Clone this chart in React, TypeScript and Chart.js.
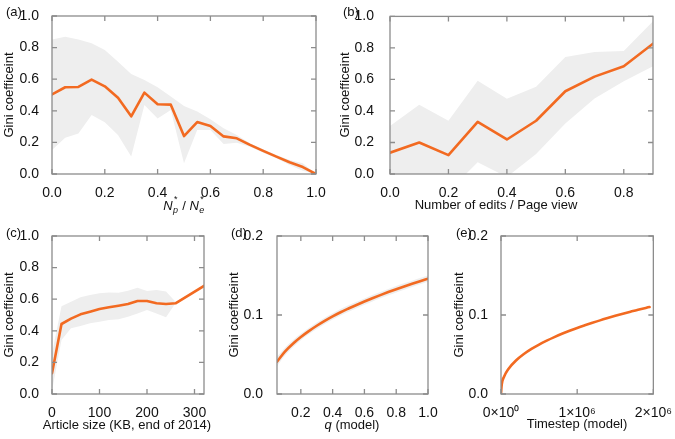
import React, { useEffect, useRef } from "react";
import { Chart, registerables } from "chart.js";

Chart.register(...registerables);

const FONT = "'Liberation Sans', Arial, Helvetica, sans-serif";
const ORANGE = "#f26a21";
const BAND = "#eeeeee";
const FRAME = "#8c8c8c";
const TEXT = "#111111";

// ---------- (a) ----------
const aX = [0, 0.05, 0.1, 0.15, 0.2, 0.25, 0.3, 0.35, 0.4, 0.45, 0.5, 0.55, 0.6, 0.65, 0.7, 0.75, 0.8, 0.85, 0.9, 0.95, 1.0];
const aMean = [0.504, 0.549, 0.551, 0.597, 0.555, 0.483, 0.365, 0.515, 0.441, 0.439, 0.24, 0.329, 0.304, 0.238, 0.226, 0.184, 0.146, 0.11, 0.074, 0.044, 0];
const aUpper = [0.852, 0.869, 0.852, 0.827, 0.785, 0.711, 0.633, 0.595, 0.549, 0.49, 0.43, 0.395, 0.346, 0.289, 0.247, 0.194, 0.156, 0.12, 0.089, 0.068, 0];
const aLower = [0.152, 0.23, 0.257, 0.373, 0.327, 0.247, 0.11, 0.437, 0.352, 0.405, 0.068, 0.278, 0.278, 0.19, 0.198, 0.173, 0.135, 0.099, 0.057, 0.021, 0];
const aXTicks = [0, 0.2, 0.4, 0.6, 0.8, 1.0];
const aYTicks = [0, 0.2, 0.4, 0.6, 0.8, 1.0];

// ---------- (b) ----------
const bX = [0, 0.1, 0.2, 0.3, 0.4, 0.5, 0.6, 0.7, 0.8, 0.9];
const bMean = [0.135, 0.2, 0.12, 0.331, 0.219, 0.338, 0.525, 0.618, 0.684, 0.827];
const bUpper = [0.304, 0.439, 0.338, 0.591, 0.477, 0.553, 0.743, 0.774, 0.781, 0.97];
const bLower = [-0.05, -0.1, -0.111, 0.074, -0.019, 0.127, 0.321, 0.479, 0.589, 0.684];
const bXTicks = [0, 0.2, 0.4, 0.6, 0.8];
const bYTicks = [0, 0.2, 0.4, 0.6, 0.8, 1.0];

// ---------- (c) ----------
const cX = [0, 20, 40, 60, 80, 100, 120, 140, 160, 180, 200, 220, 240, 260, 320];
const cMean = [0.131, 0.443, 0.477, 0.504, 0.521, 0.538, 0.549, 0.559, 0.57, 0.589, 0.589, 0.574, 0.57, 0.574, 0.684];
const cUpper = [0.257, 0.555, 0.584, 0.612, 0.627, 0.637, 0.643, 0.641, 0.654, 0.673, 0.652, 0.658, 0.648, 0.584, 0.684];
const cLower = [0.02, 0.342, 0.416, 0.43, 0.447, 0.458, 0.468, 0.473, 0.489, 0.51, 0.532, 0.51, 0.485, 0.574, 0.684];
const cXTicks = [0, 100, 200, 300];
const cYTicks = [0, 0.2, 0.4, 0.6, 0.8, 1.0];

// ---------- (d) ----------
const dX = [0.05, 0.1, 0.15, 0.2, 0.25, 0.3, 0.35, 0.4, 0.45, 0.5, 0.55, 0.6, 0.65, 0.7, 0.75, 0.8, 0.85, 0.9, 0.95, 1.0];
const dMean = [0.041, 0.0537, 0.0636, 0.0721, 0.0796, 0.0864, 0.0926, 0.0983, 0.1035, 0.1082, 0.1127, 0.117, 0.1212, 0.1252, 0.129, 0.1326, 0.1361, 0.1395, 0.1428, 0.146];
const dUpper = [0.047, 0.0587, 0.0681, 0.0762, 0.0836, 0.0904, 0.0966, 0.1023, 0.1075, 0.1122, 0.1167, 0.121, 0.1252, 0.1292, 0.133, 0.1366, 0.1401, 0.1435, 0.1468, 0.15];
const dLower = [0.035, 0.0487, 0.0591, 0.0681, 0.0756, 0.0824, 0.0886, 0.0943, 0.0995, 0.1042, 0.1087, 0.113, 0.1172, 0.1212, 0.125, 0.1286, 0.1321, 0.1355, 0.1388, 0.142];
const dXTicks = [0.2, 0.4, 0.6, 0.8, 1.0];
const dYTicks = [0, 0.1, 0.2];

// ---------- (e) ----------
const eX = [0, 10000, 40000, 100000, 200000, 300000, 400000, 500000, 600000, 700000, 800000, 900000, 1000000, 1100000, 1200000, 1300000, 1400000, 1500000, 1600000, 1700000, 1800000, 1950000];
const eMean = [0, 0.0122, 0.0218, 0.032, 0.0427, 0.0506, 0.0571, 0.0626, 0.0675, 0.072, 0.0762, 0.08, 0.0836, 0.0869, 0.0901, 0.0932, 0.0961, 0.0989, 0.1016, 0.1042, 0.1067, 0.11];
const eXTicks = [0, 1000000, 2000000];
const eYTicks = [0, 0.1, 0.2];

const Y_TITLE = "Gini coefficeint";

type Seg = { t: string; italic?: boolean; sub?: string; sup?: string };

type PanelCfg = {
  label: string;
  box: [number, number, number, number];
  area: [number, number, number, number];
  x: number[];
  mean: number[];
  upper?: number[];
  lower?: number[];
  smooth?: boolean;
  xMin: number;
  xMax: number;
  yMin: number;
  yMax: number;
  xTicks: number[];
  yTicks: number[];
  xFmt: (v: number) => string;
  yFmt: (v: number) => string;
  xTitle: Seg[];
  xTitlePos: [number, number];
  yTitlePos: [number, number];
  labelPos: [number, number];
  yPad: number;
};

const fix1 = (v: number) => v.toFixed(1);
const sci = (v: number) => (v === 0 ? "0×10⁰" : `${Math.round(v / 1e6)}×10⁶`);

const panels: PanelCfg[] = [
  {
    label: "(a)", box: [0, 0, 337, 220], area: [52, 16, 316, 174],
    x: aX, mean: aMean, upper: aUpper, lower: aLower,
    xMin: 0, xMax: 1, yMin: 0, yMax: 1, xTicks: aXTicks, yTicks: aYTicks,
    xFmt: fix1, yFmt: fix1,
    xTitle: [{ t: "N", italic: true, sub: "p", sup: "*" }, { t: " / " }, { t: "N", italic: true, sub: "e", sup: "*" }],
    xTitlePos: [184, 206], yTitlePos: [9, 95], labelPos: [6, 12], yPad: 5,
  },
  {
    label: "(b)", box: [337, 0, 338, 220], area: [390, 16, 653, 174],
    x: bX, mean: bMean, upper: bUpper, lower: bLower,
    xMin: 0, xMax: 0.9, yMin: 0, yMax: 1, xTicks: bXTicks, yTicks: bYTicks,
    xFmt: fix1, yFmt: fix1,
    xTitle: [{ t: "Number of edits / Page view" }],
    xTitlePos: [496, 205], yTitlePos: [345, 95], labelPos: [343, 12], yPad: 8,
  },
  {
    label: "(c)", box: [0, 220, 225, 219], area: [52, 236, 204, 394],
    x: cX, mean: cMean, upper: cUpper, lower: cLower,
    xMin: 0, xMax: 320, yMin: 0, yMax: 1, xTicks: cXTicks, yTicks: cYTicks,
    xFmt: (v) => String(Math.round(v)), yFmt: fix1,
    xTitle: [{ t: "Article size (KB, end of 2014)" }],
    xTitlePos: [127, 425], yTitlePos: [9, 315], labelPos: [6, 233], yPad: 5,
  },
  {
    label: "(d)", box: [225, 220, 225, 219], area: [277, 236, 428, 394],
    x: dX, mean: dMean, upper: dUpper, lower: dLower, smooth: true,
    xMin: 0.05, xMax: 1, yMin: 0, yMax: 0.2, xTicks: dXTicks, yTicks: dYTicks,
    xFmt: fix1, yFmt: fix1,
    xTitle: [{ t: "q", italic: true }, { t: " (model)" }],
    xTitlePos: [352, 425], yTitlePos: [234, 315], labelPos: [231, 233], yPad: 6,
  },
  {
    label: "(e)", box: [450, 220, 225, 219], area: [501, 236, 654, 394],
    x: eX, mean: eMean, smooth: true,
    xMin: 0, xMax: 2000000, yMin: 0, yMax: 0.2, xTicks: eXTicks, yTicks: eYTicks,
    xFmt: sci, yFmt: fix1,
    xTitle: [{ t: "Timestep (model)" }],
    xTitlePos: [577, 424], yTitlePos: [459, 315], labelPos: [456, 233], yPad: 5,
  },
];

function font(size: number, italic?: boolean) {
  return `${italic ? "italic " : ""}${size}px ${FONT}`;
}

function drawRich(ctx: CanvasRenderingContext2D, segs: Seg[], cx: number, cy: number, size: number) {
  const small = Math.round(size * 0.72);
  const widths = segs.map((s) => {
    ctx.font = font(size, s.italic);
    const w = ctx.measureText(s.t).width;
    let extra = 0;
    if (s.sub) { ctx.font = font(small, s.italic); extra = Math.max(extra, ctx.measureText(s.sub).width + 1); }
    if (s.sup) { ctx.font = font(small); extra = Math.max(extra, ctx.measureText(s.sup).width + 1); }
    return { w, extra };
  });
  const total = widths.reduce((a, b) => a + b.w + b.extra, 0);
  let x = cx - total / 2;
  ctx.textAlign = "left";
  ctx.textBaseline = "middle";
  segs.forEach((s, i) => {
    ctx.font = font(size, s.italic);
    ctx.fillText(s.t, x, cy);
    x += widths[i].w;
    if (s.sub) { ctx.font = font(small, s.italic); ctx.fillText(s.sub, x + 0.5, cy + 4); }
    if (s.sup) { ctx.font = font(small); ctx.fillText(s.sup, x + 1.5, cy - 6); }
    x += widths[i].extra;
  });
}

function makeDecor(p: PanelCfg) {
  return {
    id: "decor",
    afterDatasetsDraw(chart: any) {
      const { ctx, chartArea: ca, scales } = chart;
      ctx.save();
      ctx.strokeStyle = FRAME;
      ctx.lineWidth = 1.3;
      ctx.strokeRect(ca.left, ca.top, ca.right - ca.left, ca.bottom - ca.top);
      const TL = 5;
      ctx.beginPath();
      for (const t of scales.x.ticks) {
        const px = scales.x.getPixelForValue(t.value);
        ctx.moveTo(px, ca.bottom); ctx.lineTo(px, ca.bottom - TL);
        ctx.moveTo(px, ca.top); ctx.lineTo(px, ca.top + TL);
      }
      for (const t of scales.y.ticks) {
        const py = scales.y.getPixelForValue(t.value);
        ctx.moveTo(ca.left, py); ctx.lineTo(ca.left + TL, py);
        ctx.moveTo(ca.right, py); ctx.lineTo(ca.right - TL, py);
      }
      ctx.stroke();
      ctx.restore();
    },
    afterDraw(chart: any) {
      const ctx: CanvasRenderingContext2D = chart.ctx;
      const ox = p.box[0], oy = p.box[1];
      ctx.save();
      ctx.fillStyle = TEXT;
      ctx.font = font(13);
      ctx.textAlign = "left";
      ctx.textBaseline = "middle";
      ctx.fillText(p.label, p.labelPos[0] - ox, p.labelPos[1] - oy);
      drawRich(ctx, p.xTitle, p.xTitlePos[0] - ox, p.xTitlePos[1] - oy, 13);
      ctx.save();
      ctx.translate(p.yTitlePos[0] - ox, p.yTitlePos[1] - oy);
      ctx.rotate(-Math.PI / 2);
      ctx.font = font(13);
      ctx.textAlign = "center";
      ctx.textBaseline = "middle";
      ctx.fillText(Y_TITLE, 0, 0);
      ctx.restore();
      ctx.restore();
    },
  };
}

function Panel({ p }: { p: PanelCfg }) {
  const ref = useRef<HTMLCanvasElement | null>(null);
  useEffect(() => {
    const canvas = ref.current;
    if (!canvas) return;
    const [bl, bt, bw, bh] = p.box;
    const [al, at, ar, ab] = p.area;
    const pts = (ys: number[]) => p.x.map((x, i) => ({ x, y: ys[i] }));
    const interp = p.smooth ? "monotone" : "default";
    const datasets: any[] = [
      {
        data: pts(p.mean), borderColor: ORANGE, borderWidth: 2.6, pointRadius: 0,
        fill: false, tension: 0, cubicInterpolationMode: interp,
        borderJoinStyle: "round", borderCapStyle: "round",
      },
    ];
    if (p.upper && p.lower) {
      datasets.push({ data: pts(p.upper), borderWidth: 0, borderColor: "rgba(0,0,0,0)", backgroundColor: BAND, pointRadius: 0, fill: "+1", cubicInterpolationMode: interp });
      datasets.push({ data: pts(p.lower), borderWidth: 0, borderColor: "rgba(0,0,0,0)", backgroundColor: BAND, pointRadius: 0, fill: false, cubicInterpolationMode: interp });
    }
    const tickFont = { family: FONT, size: 14 };
    const chart = new Chart(canvas, {
      type: "line",
      data: { datasets },
      options: {
        responsive: false,
        animation: false,
        events: [],
        layout: { autoPadding: false, padding: { left: 0, top: at - bt, right: bl + bw - ar, bottom: 0 } },
        plugins: { legend: { display: false }, tooltip: { enabled: false } },
        scales: {
          x: {
            type: "linear", min: p.xMin, max: p.xMax,
            grid: { display: false }, border: { display: false },
            ticks: { padding: 3, color: TEXT, font: tickFont, maxRotation: 0, autoSkip: false, callback: (v: any) => p.xFmt(Number(v)) },
            afterBuildTicks: (s: any) => { s.ticks = p.xTicks.map((v) => ({ value: v })); },
            afterFit: (s: any) => { s.height = bt + bh - ab; },
          },
          y: {
            type: "linear", min: p.yMin, max: p.yMax,
            grid: { display: false }, border: { display: false },
            ticks: { padding: p.yPad, color: TEXT, font: tickFont, autoSkip: false, callback: (v: any) => p.yFmt(Number(v)) },
            afterBuildTicks: (s: any) => { s.ticks = p.yTicks.map((v) => ({ value: v })); },
            afterFit: (s: any) => { s.width = al - bl; },
          },
        },
      } as any,
      plugins: [makeDecor(p)],
    });
    return () => chart.destroy();
  }, [p]);
  return (
    <canvas
      ref={ref}
      width={p.box[2]}
      height={p.box[3]}
      style={{ position: "absolute", left: p.box[0], top: p.box[1], width: p.box[2], height: p.box[3] }}
    />
  );
}

export default function App() {
  return (
    <div style={{ position: "fixed", left: 0, top: 0, width: 675, height: 439, background: "#ffffff", overflow: "hidden" }}>
      {panels.map((p) => (
        <Panel key={p.label} p={p} />
      ))}
    </div>
  );
}
